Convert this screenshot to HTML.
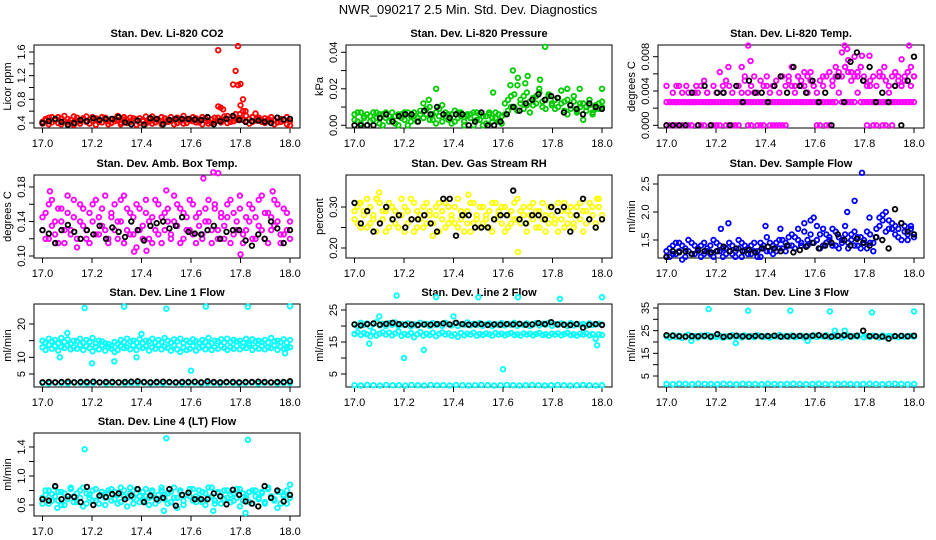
<!DOCTYPE html>
<html><head><meta charset="utf-8"><style>
body{margin:0;background:#fff;}
svg{display:block;font-family:"Liberation Sans",sans-serif;}
</style></head><body>
<svg id="c" width="936" height="540" viewBox="0 0 936 540">
<text x="468" y="14" text-anchor="middle" font-size="13">NWR_090217  2.5 Min. Std. Dev. Diagnostics</text>
</svg>
<script>
// ---- data (time axis is fractional day) ----
const xTicks=[17.0,17.2,17.4,17.6,17.8,18.0];
const xTickLabels=["17.0","17.2","17.4","17.6","17.8","18.0"];

const co2A=[0.42,0.47,0.38,0.50,0.44,0.40,0.48,0.52,0.41,0.45,0.37,0.49,0.43,0.46,0.51,0.39,0.44,0.48,0.42,0.50,0.45,0.38,0.47,0.43,0.52,0.41,0.46,0.40,0.49,0.44,0.37,0.48,0.45,0.51,0.42,0.39,0.47,0.44,0.50,0.41,0.46,0.43,0.38,0.49,0.45,0.52,0.40,0.47,0.43,0.48,0.41,0.50,0.44,0.39,0.46,0.42,0.49,0.45,0.51,0.40,0.47,0.43,0.48,0.55,0.45,0.52,0.39,0.50,0.44,0.46,0.42,0.48,0.43,0.50,0.45,0.41,0.47,0.44,0.38,0.43];
const co2B=[0.39,0.44,0.49,0.41,0.46,0.50,0.38,0.43,0.47,0.40,0.51,0.44,0.39,0.48,0.42,0.45,0.50,0.37,0.46,0.41,0.49,0.43,0.40,0.47,0.44,0.38,0.50,0.45,0.42,0.48,0.46,0.40,0.43,0.39,0.47,0.51,0.41,0.45,0.38,0.48,0.42,0.50,0.46,0.40,0.43,0.39,0.47,0.44,0.50,0.41,0.45,0.38,0.48,0.43,0.40,0.49,0.44,0.41,0.46,0.52,0.42,0.50,0.45,0.48,0.60,0.43,0.47,0.42,0.56,0.49,0.45,0.40,0.47,0.44,0.38,0.49,0.42,0.46,0.50,0.36];
const co2OutX=[17.71,17.79,17.78,17.77,17.80,17.79,17.81,17.71,17.72,17.73,17.80,17.82,17.78];
const co2OutY=[1.63,1.70,1.28,1.05,1.06,1.04,0.80,0.68,0.66,0.63,0.70,0.60,0.55];
const co2K=[0.40,0.43,0.47,0.42,0.37,0.40,0.45,0.43,0.48,0.45,0.47,0.47,0.50,0.41,0.38,0.44,0.37,0.48,0.47,0.38,0.45,0.47,0.47,0.47,0.46,0.45,0.50,0.38,0.43,0.47,0.52,0.45,0.42,0.43,0.44,0.42,0.40,0.49,0.46,0.47];

const presA=[0.006,0.002,0.007,0.004,0.000,0.005,0.003,0.007,0.001,0.006,0.004,0.002,0.007,0.005,0.000,0.006,0.003,0.007,0.002,0.005,0.004,0.008,0.012,0.006,0.010,0.003,0.007,0.009,0.002,0.005,0.006,0.001,0.008,0.004,0.007,0.002,0.005,0.006,0.000,0.007,0.003,0.005,0.001,0.006,0.004,0.007,0.002,0.005,0.012,0.008,0.016,0.010,0.022,0.014,0.009,0.018,0.013,0.011,0.016,0.020,0.010,0.014,0.017,0.012,0.009,0.015,0.019,0.013,0.006,0.011,0.016,0.008,0.012,0.003,0.010,0.014,0.007,0.011,0.009,0.013];
const presB=[0.003,0.007,0.001,0.005,0.006,0.002,0.007,0.004,0.006,0.000,0.007,0.005,0.003,0.001,0.006,0.004,0.007,0.000,0.005,0.007,0.002,0.006,0.004,0.009,0.003,0.006,0.001,0.005,0.011,0.007,0.003,0.006,0.002,0.007,0.005,0.000,0.006,0.004,0.007,0.003,0.006,0.000,0.005,0.007,0.002,0.004,0.006,0.001,0.006,0.014,0.010,0.017,0.008,0.012,0.016,0.011,0.007,0.015,0.012,0.018,0.013,0.009,0.016,0.011,0.014,0.010,0.012,0.008,0.014,0.009,0.013,0.007,0.010,0.012,0.008,0.011,0.006,0.009,0.012,0.010];
const presOutX=[17.33,17.30,17.56,17.64,17.66,17.70,17.75,17.77,17.86,17.91,18.00,17.63,17.69];
const presOutY=[0.020,0.014,0.018,0.030,0.026,0.027,0.025,0.043,0.020,0.020,0.020,0.022,0.023];
const presK=[0.000,0.000,0.000,0.000,0.004,0.006,0.002,0.005,0.006,0.006,0.002,0.008,0.006,0.010,0.006,0.004,0.006,0.006,0.000,0.002,0.007,0.000,0.000,0.002,0.006,0.010,0.008,0.012,0.014,0.017,0.014,0.016,0.015,0.007,0.011,0.009,0.006,0.012,0.010,0.009];

const tempA=[0.0027,0.0027,0.0027,0.0027,0.0027,0.0027,0.0027,0.0027,0.0027,0.0027,0.0027,0.0027,0.0027,0.0027,0.0027,0.0027,0.0027,0.0027,0.0027,0.0027,0.0027,0.0027,0.0027,0.0027,0.0027,0.0027,0.0027,0.0027,0.0027,0.0027,0.0027,0.0027,0.0027,0.0027,0.0027,0.0027,0.0027,0.0027,0.0027,0.0027,0.0027,0.0027,0.0027,0.0027,0.0027,0.0027,0.0027,0.0027,0.0027,0.0027,0.0027,0.0027,0.0027,0.0027,0.0027,0.0038,0.0027,0.0027,0.0027,0.0027,0.0027,0.0038,0.0027,0.0027,0.0027,0.0027,0.0027,0.0027,0.0027,0.0027,0.0027,0.0027,0.0027,0.0027,0.0027,0.0027,0.0027,0.0027,0.0027,0.0027];
const tempB=[0,0,0,0,0,0,0,0,0,0.0038,0,0,0,0.0038,0,0,0,0,0.0046,0,0,0,0,0,0.0038,0.0052,0,0,0.0038,0,0,0,0.0046,0,0,0,0,0,0,0.0057,0.0046,0.0038,0.0057,0.0046,0.0062,0.0038,0.0052,0.0046,0,0,0.0057,0,0,0.0046,0.0068,0.0057,0.0085,0.0068,0.0076,0.0062,0.0080,0.0057,0.0068,0.0052,0,0.0046,0,0,0.0057,0,0,0.0038,0,0.0046,0.0057,0.0046,0.0052,0.0062,0.0046,0.0057];
const tempC=[0.0046,0.0027,0.0038,0.0027,0.0046,0.0038,0.0027,0.0038,0.0027,0.0027,0.0038,0.0046,0.0052,0.0038,0.0027,0.0046,0.0038,0.0062,0.0038,0.0052,0.0046,0.0038,0.0027,0.0046,0.0068,0.0057,0.0038,0.0046,0.0057,0.0038,0.0052,0.0046,0.0057,0.0038,0.0046,0.0052,0.0038,0.0057,0.0046,0.0052,0.0068,0.0046,0.0057,0.0052,0.0046,0.0057,0.0062,0.0046,0.0038,0.0052,0.0046,0.0057,0.0062,0.0052,0.0057,0.0062,0.0057,0.0068,0.0062,0.0052,0.0057,0.0062,0.0068,0.0057,0.0046,0.0052,0.0057,0.0046,0.0062,0.0057,0.0052,0.0046,0.0057,0.0062,0.0052,0.0046,0.0057,0.0062,0.0068,0.0057];
const tempOutX=[17.33,17.34,17.72,17.73,17.79,17.82,17.98,17.88,17.95,17.25,17.04,17.08,17.12];
const tempOutY=[0.0093,0.0075,0.0093,0.0089,0.0081,0.0081,0.0093,0.0068,0.0077,0.0068,0.0046,0.0046,0.0046];
const tempK=[0,0,0,0,0.0038,0,0.0046,0,0.0038,0.0038,0,0.0046,0.0027,0.0052,0.0038,0.0038,0.0027,0.0046,0.0057,0.0038,0.0068,0.0046,0.0038,0.0052,0.0027,0.0038,0,0.0057,0.0027,0.0074,0.0085,0.0052,0.0068,0.0027,0.0038,0.0027,0.0046,0,0.0052,0.0080];

const ambA=[0.13,0.15,0.12,0.165,0.14,0.115,0.155,0.13,0.17,0.125,0.145,0.11,0.16,0.135,0.12,0.15,0.14,0.165,0.125,0.155,0.13,0.115,0.145,0.16,0.12,0.14,0.17,0.13,0.15,0.125,0.11,0.155,0.135,0.165,0.12,0.145,0.13,0.16,0.115,0.15,0.14,0.125,0.17,0.135,0.155,0.12,0.145,0.13,0.16,0.115,0.15,0.125,0.14,0.165,0.13,0.155,0.12,0.145,0.135,0.16,0.115,0.15,0.13,0.17,0.125,0.145,0.14,0.155,0.12,0.165,0.13,0.15,0.115,0.145,0.135,0.16,0.125,0.155,0.13,0.14];
const ambB=[0.145,0.12,0.16,0.135,0.125,0.155,0.14,0.115,0.15,0.13,0.165,0.12,0.14,0.155,0.13,0.115,0.16,0.125,0.145,0.135,0.17,0.12,0.15,0.13,0.14,0.165,0.115,0.155,0.125,0.145,0.16,0.13,0.12,0.15,0.14,0.115,0.165,0.125,0.145,0.13,0.155,0.12,0.14,0.16,0.115,0.15,0.13,0.165,0.125,0.145,0.135,0.12,0.155,0.14,0.115,0.16,0.13,0.15,0.12,0.145,0.165,0.125,0.14,0.155,0.115,0.13,0.16,0.12,0.145,0.135,0.17,0.12,0.15,0.13,0.165,0.14,0.115,0.125,0.15,0.12];
const ambOutX=[17.65,17.69,17.71,17.80,17.37,17.42,17.03,17.5,17.93];
const ambOutY=[0.190,0.197,0.196,0.102,0.105,0.106,0.175,0.176,0.175];
const ambK=[0.130,0.126,0.115,0.130,0.136,0.128,0.120,0.130,0.125,0.135,0.120,0.133,0.128,0.122,0.140,0.130,0.118,0.135,0.138,0.140,0.132,0.135,0.145,0.128,0.126,0.125,0.130,0.135,0.120,0.128,0.130,0.130,0.118,0.112,0.125,0.120,0.140,0.132,0.115,0.130];

const rhA=[0.27,0.30,0.25,0.29,0.32,0.26,0.28,0.24,0.31,0.27,0.29,0.25,0.30,0.26,0.28,0.32,0.24,0.29,0.27,0.31,0.25,0.28,0.30,0.26,0.29,0.23,0.28,0.31,0.27,0.25,0.30,0.28,0.26,0.32,0.27,0.24,0.29,0.31,0.26,0.28,0.25,0.30,0.27,0.29,0.24,0.31,0.28,0.26,0.30,0.25,0.29,0.27,0.32,0.26,0.28,0.24,0.30,0.27,0.29,0.25,0.31,0.28,0.26,0.30,0.27,0.24,0.29,0.31,0.26,0.28,0.25,0.30,0.27,0.29,0.26,0.31,0.28,0.25,0.30,0.27];
const rhB=[0.29,0.26,0.31,0.28,0.25,0.30,0.27,0.32,0.26,0.29,0.24,0.31,0.27,0.29,0.25,0.28,0.30,0.26,0.32,0.24,0.29,0.27,0.25,0.31,0.28,0.26,0.30,0.24,0.29,0.31,0.26,0.27,0.30,0.25,0.29,0.28,0.26,0.24,0.31,0.27,0.30,0.26,0.28,0.25,0.31,0.27,0.29,0.30,0.24,0.28,0.26,0.31,0.27,0.29,0.30,0.26,0.28,0.31,0.25,0.29,0.27,0.24,0.30,0.28,0.26,0.31,0.27,0.25,0.29,0.30,0.26,0.28,0.31,0.24,0.29,0.27,0.30,0.26,0.32,0.28];
const rhOutX=[17.10,17.46,17.66,17.98,17.02,17.09];
const rhOutY=[0.335,0.33,0.19,0.32,0.31,0.32];
const rhK=[0.31,0.26,0.29,0.24,0.26,0.30,0.27,0.28,0.25,0.27,0.27,0.28,0.26,0.24,0.32,0.32,0.23,0.28,0.28,0.25,0.25,0.25,0.27,0.28,0.28,0.34,0.27,0.26,0.28,0.28,0.27,0.30,0.29,0.30,0.24,0.28,0.32,0.27,0.25,0.27];

const flowA=[1.30,1.20,1.40,1.25,1.45,1.15,1.35,1.50,1.25,1.40,1.30,1.20,1.45,1.35,1.25,1.50,1.30,1.40,1.20,1.35,1.45,1.25,1.30,1.50,1.20,1.40,1.35,1.25,1.45,1.30,1.20,1.40,1.55,1.30,1.25,1.45,1.35,1.50,1.30,1.40,1.60,1.35,1.50,1.45,1.80,1.40,1.60,1.90,1.50,1.35,1.70,1.45,1.55,1.40,1.65,1.35,1.50,1.75,1.45,1.60,1.40,1.55,1.35,1.50,1.65,1.45,1.30,1.55,1.75,1.85,2.00,1.70,1.80,1.60,1.70,1.50,1.75,1.60,1.70,1.55];
const flowB=[1.20,1.35,1.25,1.45,1.30,1.40,1.20,1.30,1.45,1.25,1.35,1.40,1.25,1.30,1.40,1.20,1.45,1.30,1.35,1.25,1.30,1.40,1.20,1.35,1.45,1.30,1.25,1.40,1.30,1.20,1.45,1.35,1.30,1.45,1.40,1.30,1.50,1.35,1.45,1.55,1.40,1.55,1.70,1.40,1.65,1.50,1.85,1.45,1.75,1.60,1.40,1.60,1.50,1.70,1.40,1.55,1.45,1.60,1.35,1.50,1.65,1.40,1.55,1.45,1.35,1.60,1.45,1.70,1.90,1.95,1.65,1.85,1.70,1.75,1.55,1.80,1.65,1.50,1.75,1.60];
const flowOutX=[17.79,17.76,17.22,17.25,17.40,17.46,17.73,17.82];
const flowOutY=[2.70,2.20,1.70,1.80,1.75,1.70,2.00,1.90];
const flowK=[1.20,1.30,1.28,1.30,1.25,1.32,1.30,1.28,1.30,1.38,1.30,1.35,1.30,1.32,1.28,1.35,1.38,1.35,1.30,1.40,1.28,1.32,1.38,1.45,1.35,1.40,1.45,1.60,1.50,1.40,1.52,1.45,1.40,1.55,1.50,1.35,2.05,1.80,1.65,1.60];

const l1A=[13.0,12.2,13.8,12.6,13.4,12.0,13.2,12.8,13.6,12.4,13.0,12.6,13.8,12.2,13.4,12.8,11.8,13.2,12.4,13.6,12.0,13.0,12.6,11.6,12.2,13.4,12.8,13.0,12.4,13.6,12.2,13.2,12.8,13.4,12.0,13.0,12.6,13.8,12.4,13.2,12.8,12.0,13.6,12.4,11.6,13.0,12.2,12.6,13.4,12.0,12.8,13.2,12.4,13.6,12.2,13.0,12.6,13.4,12.8,12.2,13.0,12.6,13.4,12.4,13.2,12.8,13.6,12.2,13.0,12.6,13.4,12.4,13.0,12.8,13.6,12.2,13.2,12.6,12.8,13.0];
const l1B=[15.0,14.4,15.6,14.8,15.2,14.2,15.8,14.6,15.4,14.0,15.0,14.8,15.6,14.4,15.2,14.6,15.8,14.2,15.0,14.8,14.2,14.0,13.4,14.6,14.0,15.2,14.6,15.6,14.8,15.0,14.4,15.4,14.2,15.0,14.8,15.6,14.4,15.2,14.6,15.8,15.0,14.4,15.4,14.8,15.6,14.2,15.0,14.6,15.4,14.8,14.4,15.2,14.6,15.8,14.2,15.0,14.8,15.4,14.4,15.6,14.6,15.2,14.8,15.0,14.4,15.6,14.2,15.4,14.8,15.0,14.6,15.2,14.4,15.8,14.8,15.0,14.6,15.4,14.4,15.2];
const l1C=[2.3,2.2,2.4,2.3,2.2,2.4,2.3,2.2,2.3,2.4,2.2,2.3,2.4,2.2,2.3,2.3,2.4,2.2,2.3,2.2,2.4,2.3,2.2,2.3,2.4,2.2,2.3,2.3,2.2,2.4,2.3,2.2,2.3,2.4,2.2,2.3,2.4,2.2,2.3,2.3];
const l1OutX=[17.17,17.33,17.50,17.66,17.83,18.00,17.07,17.10,17.20,17.29,17.38,17.40,17.60,17.98];
const l1OutY=[24.8,25.2,24.6,25.2,25.2,25.3,10.0,17.3,8.2,8.8,10.0,17.0,6.0,11.2];
const l1K=[2.5,2.6,2.5,2.6,2.7,2.5,2.6,2.6,2.7,2.5,2.6,2.6,2.5,2.6,2.7,2.8,2.6,2.5,2.6,2.7,2.6,2.5,2.6,2.6,2.7,2.5,2.8,2.6,2.5,2.6,2.6,2.5,2.6,2.6,2.7,2.6,2.5,2.6,2.6,2.8];

const l2A=[20.5,20.0,21.0,20.3,20.8,19.8,20.6,21.2,20.2,20.7,20.0,20.9,20.4,21.1,20.1,20.6,20.3,20.8,19.9,20.5,20.2,21.0,20.4,20.7,20.0,20.9,20.3,20.6,20.1,21.0,20.5,20.2,20.8,20.0,20.6,20.4,21.1,20.2,20.7,20.3,20.9,20.1,20.5,20.8,20.0,20.6,20.3,20.9,20.2,20.7,20.4,21.0,20.1,20.6,20.3,20.8,20.0,20.5,20.9,20.2,20.7,20.4,21.0,20.1,20.6,20.3,20.8,20.5,20.0,20.9,20.2,20.7,20.4,20.6,20.1,20.8,20.3,20.5,20.7,20.4];
const l2B=[17.5,18.0,17.2,17.8,17.4,16.8,18.2,17.0,17.6,18.0,17.3,17.9,17.1,17.7,18.3,16.9,17.5,17.2,17.8,16.5,17.4,18.1,17.0,17.6,17.2,17.9,16.8,17.5,18.0,17.3,17.7,17.0,17.4,16.6,17.8,17.1,17.6,17.3,17.9,17.0,17.5,17.2,17.7,17.4,17.0,17.8,17.3,17.6,17.1,17.5,17.8,17.2,17.4,17.0,17.7,17.3,17.6,17.1,17.5,17.8,17.2,17.4,17.0,17.6,17.3,17.7,17.1,17.5,17.8,17.2,17.4,17.0,17.6,17.3,17.7,17.1,17.5,16.0,17.4,17.2];
const l2C=[1.5,1.4,1.6,1.5,1.4,1.6,1.5,1.5,1.4,1.6,1.5,1.4,1.6,1.5,1.5,1.4,1.6,1.5,1.4,1.5,1.6,1.5,1.4,1.5,1.6,1.5,1.4,1.5,1.6,1.5,1.4,1.5,1.6,1.5,1.4,1.5,1.6,1.5,1.4,1.5];
const l2OutX=[17.17,17.33,17.50,17.66,17.83,18.00,17.20,17.28,17.60,17.10,17.40,17.06,17.98];
const l2OutY=[29.5,29.0,29.0,29.0,28.5,29.0,10.0,12.5,6.5,23.0,23.0,14.5,14.0];
const l2K=[20.5,20.2,20.6,20.8,20.4,20.7,21.0,20.6,20.4,20.5,20.3,20.5,20.4,20.6,20.8,20.5,21.0,20.6,20.4,20.5,20.6,20.3,20.5,20.4,20.6,20.5,20.7,20.4,20.5,20.9,20.6,21.2,20.5,20.4,20.3,20.6,19.5,20.4,20.6,20.3];

const l3A=[22.5,22.0,23.0,22.3,22.8,21.8,22.6,23.2,22.2,22.7,22.0,22.9,22.4,23.1,22.1,22.6,22.3,22.8,21.9,22.5,22.2,23.0,22.4,22.7,22.0,22.9,22.3,22.6,22.1,23.0,22.5,22.2,22.8,22.0,22.6,22.4,23.1,22.2,22.7,22.3,22.9,22.1,22.5,22.8,22.0,22.6,22.3,22.9,22.2,22.7,22.4,23.0,22.1,22.6,22.3,22.8,22.0,22.5,22.9,22.2,22.7,22.4,23.0,22.1,22.6,22.3,22.8,22.5,22.0,22.9,22.2,22.7,22.4,22.6,22.1,22.8,22.3,22.5,22.7,22.4];
const l3C=[1.5,1.4,1.6,1.5,1.4,1.6,1.5,1.5,1.4,1.6,1.5,1.4,1.6,1.5,1.5,1.4,1.6,1.5,1.4,1.5,1.6,1.5,1.4,1.5,1.6,1.5,1.4,1.5,1.6,1.5,1.4,1.5,1.6,1.5,1.4,1.5,1.6,1.5,1.4,1.5];
const l3OutX=[17.17,17.33,17.50,17.66,17.83,18.00,17.10,17.28,17.57,17.68,17.72];
const l3OutY=[34.5,33.8,33.8,33.5,33.0,33.5,20.5,19.5,20.5,25.0,25.0];
const l3K=[23.0,22.8,22.5,22.4,22.6,22.5,22.7,22.4,23.5,22.3,22.6,22.8,22.5,22.4,22.7,22.5,22.6,22.8,22.4,22.5,22.6,22.7,22.5,22.8,23.0,22.6,22.4,22.7,23.0,22.5,22.8,25.0,22.6,22.5,22.4,21.5,22.6,22.7,22.5,22.8];

const l4A=[0.70,0.80,0.62,0.75,0.85,0.66,0.78,0.60,0.72,0.82,0.64,0.76,0.70,0.84,0.62,0.74,0.80,0.66,0.72,0.78,0.60,0.76,0.82,0.68,0.74,0.64,0.80,0.70,0.84,0.62,0.76,0.72,0.66,0.82,0.70,0.78,0.62,0.74,0.80,0.68,0.76,0.64,0.84,0.70,0.78,0.60,0.74,0.82,0.66,0.72,0.80,0.64,0.76,0.70,0.84,0.62,0.78,0.72,0.68,0.80,0.64,0.76,0.70,0.82,0.66,0.74,0.78,0.62,0.80,0.70,0.76,0.64,0.82,0.72,0.68,0.78,0.62,0.74,0.80,0.70];
const l4B=[0.62,0.74,0.80,0.66,0.72,0.78,0.60,0.76,0.68,0.84,0.72,0.64,0.80,0.58,0.76,0.70,0.66,0.82,0.62,0.74,0.70,0.80,0.66,0.78,0.62,0.84,0.72,0.58,0.76,0.70,0.82,0.64,0.78,0.72,0.60,0.80,0.70,0.66,0.84,0.74,0.62,0.78,0.70,0.56,0.80,0.66,0.74,0.72,0.82,0.64,0.70,0.78,0.60,0.84,0.72,0.66,0.76,0.62,0.80,0.70,0.74,0.66,0.82,0.58,0.76,0.70,0.64,0.80,0.72,0.68,0.78,0.62,0.84,0.70,0.66,0.56,0.78,0.72,0.62,0.88];
const l4OutX=[17.17,17.50,17.83,17.49,17.69,17.82,17.06];
const l4OutY=[1.37,1.52,1.50,0.52,0.52,0.49,0.56];
const l4K=[0.68,0.66,0.86,0.68,0.72,0.71,0.64,0.85,0.60,0.73,0.71,0.75,0.76,0.68,0.73,0.82,0.64,0.73,0.68,0.70,0.82,0.59,0.74,0.77,0.68,0.68,0.68,0.76,0.72,0.61,0.81,0.74,0.65,0.62,0.58,0.86,0.70,0.80,0.65,0.74];

// ---- rendering ----
const NS="http://www.w3.org/2000/svg";
const svg=document.getElementById('c');
function mk(tag,attrs,parent){const e=document.createElementNS(NS,tag);for(const k in attrs)e.setAttribute(k,attrs[k]);(parent||svg).appendChild(e);return e;}
const rowTop=[45,175,304,433], boxH=83;
function panel(cfg){
  const L=34+312*cfg.col, R=300+312*cfg.col, T=rowTop[cfg.row], B=T+boxH;
  const g=mk('g',{});
  
  
  const xs=t=>42.5+312*cfg.col+(t-17)*247.5;
  const ys=v=>cfg.p0+(v-cfg.v0)*(cfg.p1-cfg.p0)/(cfg.v1-cfg.v0);
  const tt=mk('text',{x:(L+R)/2,y:T-8,'text-anchor':'middle','font-size':11,'font-weight':'bold'},g);
  tt.textContent=cfg.title;
  
  
  const box=mk('rect',{x:L,y:T,width:R-L,height:boxH,fill:'none',stroke:'#000','stroke-width':1},g);
  
  
  xTicks.forEach((t,i)=>{
    mk('line',{x1:xs(t),x2:xs(t),y1:B,y2:B+5,stroke:'#000'},g);
    const lb=mk('text',{x:xs(t),y:B+19,'text-anchor':'middle','font-size':11},g);
    lb.textContent=xTickLabels[i];
    
    
  });
  cfg.ticks.forEach(v=>mk('line',{x1:L-5,x2:L,y1:ys(v),y2:ys(v),stroke:'#000'},g));
  cfg.labels.forEach((s,i)=>{
    const y=ys(cfg.labelVals[i]);
    const lb=mk('text',{x:0,y:0,'text-anchor':'middle','font-size':11,transform:`translate(${L-9},${y}) rotate(-90)`},g);
    lb.textContent=s;
    
    
  });
  const yl=mk('text',{x:0,y:0,'text-anchor':'middle','font-size':11,transform:`translate(${L-23},${(T+B)/2}) rotate(-90)`},g);
  yl.textContent=cfg.ylab;
  
  
  const pts=mk('g',{fill:'none'},g);
  function dot(t,v,col,w){
    const c=mk('circle',{cx:xs(t).toFixed(1),cy:ys(v).toFixed(1),r:2.3,stroke:col,'stroke-width':w},pts);
    
    
  }
  cfg.series.forEach(s=>{
    const n=s.v.length;
    s.v.forEach((v,i)=>dot(s.x?s.x[i]:17+i/(n-1),v,s.c,s.w||1.8));
  });
}
const K='#000';
panel({name:'panel-co2',col:0,row:0,title:'Stan. Dev. Li-820 CO2',ylab:'Licor ppm',v0:0.4,p0:123,v1:1.6,p1:52,ticks:[0.4,0.6,0.8,1.0,1.2,1.4,1.6],labels:['0.4','0.8','1.2','1.6'],labelVals:[0.4,0.8,1.2,1.6],
  series:[{v:co2A,c:'#ff0000'},{v:co2B,c:'#ff0000'},{x:co2OutX,v:co2OutY,c:'#ff0000'},{v:co2K,c:K}]});
panel({name:'panel-pressure',col:1,row:0,title:'Stan. Dev. Li-820 Pressure',ylab:'kPa',v0:0,p0:125.3,v1:0.04,p1:52.3,ticks:[0,0.01,0.02,0.03,0.04],labels:['0.00','0.02','0.04'],labelVals:[0,0.02,0.04],
  series:[{v:presA,c:'#00cc00'},{v:presB,c:'#00cc00'},{x:presOutX,v:presOutY,c:'#00cc00'},{v:presK,c:K}]});
panel({name:'panel-li820-temp',col:2,row:0,title:'Stan. Dev. Li-820 Temp.',ylab:'degrees C',v0:0,p0:125.3,v1:0.008,p1:56.7,ticks:[0,0.002,0.004,0.006,0.008],labels:['0.000','0.004','0.008'],labelVals:[0,0.004,0.008],
  series:[{v:tempA,c:'#ff00ff'},{v:tempB,c:'#ff00ff'},{v:tempC,c:'#ff00ff'},{x:tempOutX,v:tempOutY,c:'#ff00ff'},{v:tempK,c:K}]});
panel({name:'panel-amb-box-temp',col:0,row:1,title:'Stan. Dev. Amb. Box Temp.',ylab:'degrees C',v0:0.10,p0:256,v1:0.18,p1:187,ticks:[0.10,0.12,0.14,0.16,0.18],labels:['0.10','0.14','0.18'],labelVals:[0.10,0.14,0.18],
  series:[{v:ambA,c:'#ff00ff'},{v:ambB,c:'#ff00ff'},{x:ambOutX,v:ambOutY,c:'#ff00ff'},{v:ambK,c:K}]});
panel({name:'panel-gas-rh',col:1,row:1,title:'Stan. Dev. Gas Stream RH',ylab:'percent',v0:0.20,p0:248,v1:0.30,p1:207,ticks:[0.20,0.25,0.30],labels:['0.20','0.30'],labelVals:[0.20,0.30],
  series:[{v:rhA,c:'#ffff00'},{v:rhB,c:'#ffff00'},{x:rhOutX,v:rhOutY,c:'#ffff00'},{v:rhK,c:K}]});
panel({name:'panel-sample-flow',col:2,row:1,title:'Stan. Dev. Sample Flow',ylab:'ml/min',v0:1.5,p0:240,v1:2.5,p1:184,ticks:[1.5,2.0,2.5],labels:['1.5','2.0','2.5'],labelVals:[1.5,2.0,2.5],
  series:[{v:flowA,c:'#0000ff'},{v:flowB,c:'#0000ff'},{x:flowOutX,v:flowOutY,c:'#0000ff'},{v:flowK,c:K}]});
panel({name:'panel-line1-flow',col:0,row:2,title:'Stan. Dev. Line 1 Flow',ylab:'ml/min',v0:5,p0:374,v1:20,p1:324,ticks:[5,10,15,20],labels:['5','10','20'],labelVals:[5,10,20],
  series:[{v:l1A,c:'#00ffff'},{v:l1B,c:'#00ffff'},{v:l1C,c:'#00ffff'},{x:l1OutX,v:l1OutY,c:'#00ffff'},{v:l1K,c:K}]});
panel({name:'panel-line2-flow',col:1,row:2,title:'Stan. Dev. Line 2 Flow',ylab:'ml/min',v0:5,p0:374,v1:25,p1:310,ticks:[5,10,15,20,25],labels:['5','15','25'],labelVals:[5,15,25],
  series:[{v:l2A,c:'#00ffff'},{v:l2B,c:'#00ffff'},{v:l2C,c:'#00ffff'},{x:l2OutX,v:l2OutY,c:'#00ffff'},{v:l2K,c:K}]});
panel({name:'panel-line3-flow',col:2,row:2,title:'Stan. Dev. Line 3 Flow',ylab:'ml/min',v0:5,p0:376,v1:35,p1:308,ticks:[5,10,15,20,25,30,35],labels:['5','15','25','35'],labelVals:[5,15,25,35],
  series:[{v:l3A,c:'#00ffff'},{v:l3C,c:'#00ffff'},{x:l3OutX,v:l3OutY,c:'#00ffff'},{v:l3K,c:K}]});
panel({name:'panel-line4-flow',col:0,row:3,title:'Stan. Dev. Line 4 (LT) Flow',ylab:'ml/min',v0:0.6,p0:505,v1:1.4,p1:447,ticks:[0.6,0.8,1.0,1.2,1.4],labels:['0.6','1.0','1.4'],labelVals:[0.6,1.0,1.4],
  series:[{v:l4A,c:'#00ffff'},{v:l4B,c:'#00ffff'},{x:l4OutX,v:l4OutY,c:'#00ffff'},{v:l4K,c:K}]});
</script>
</body></html>
